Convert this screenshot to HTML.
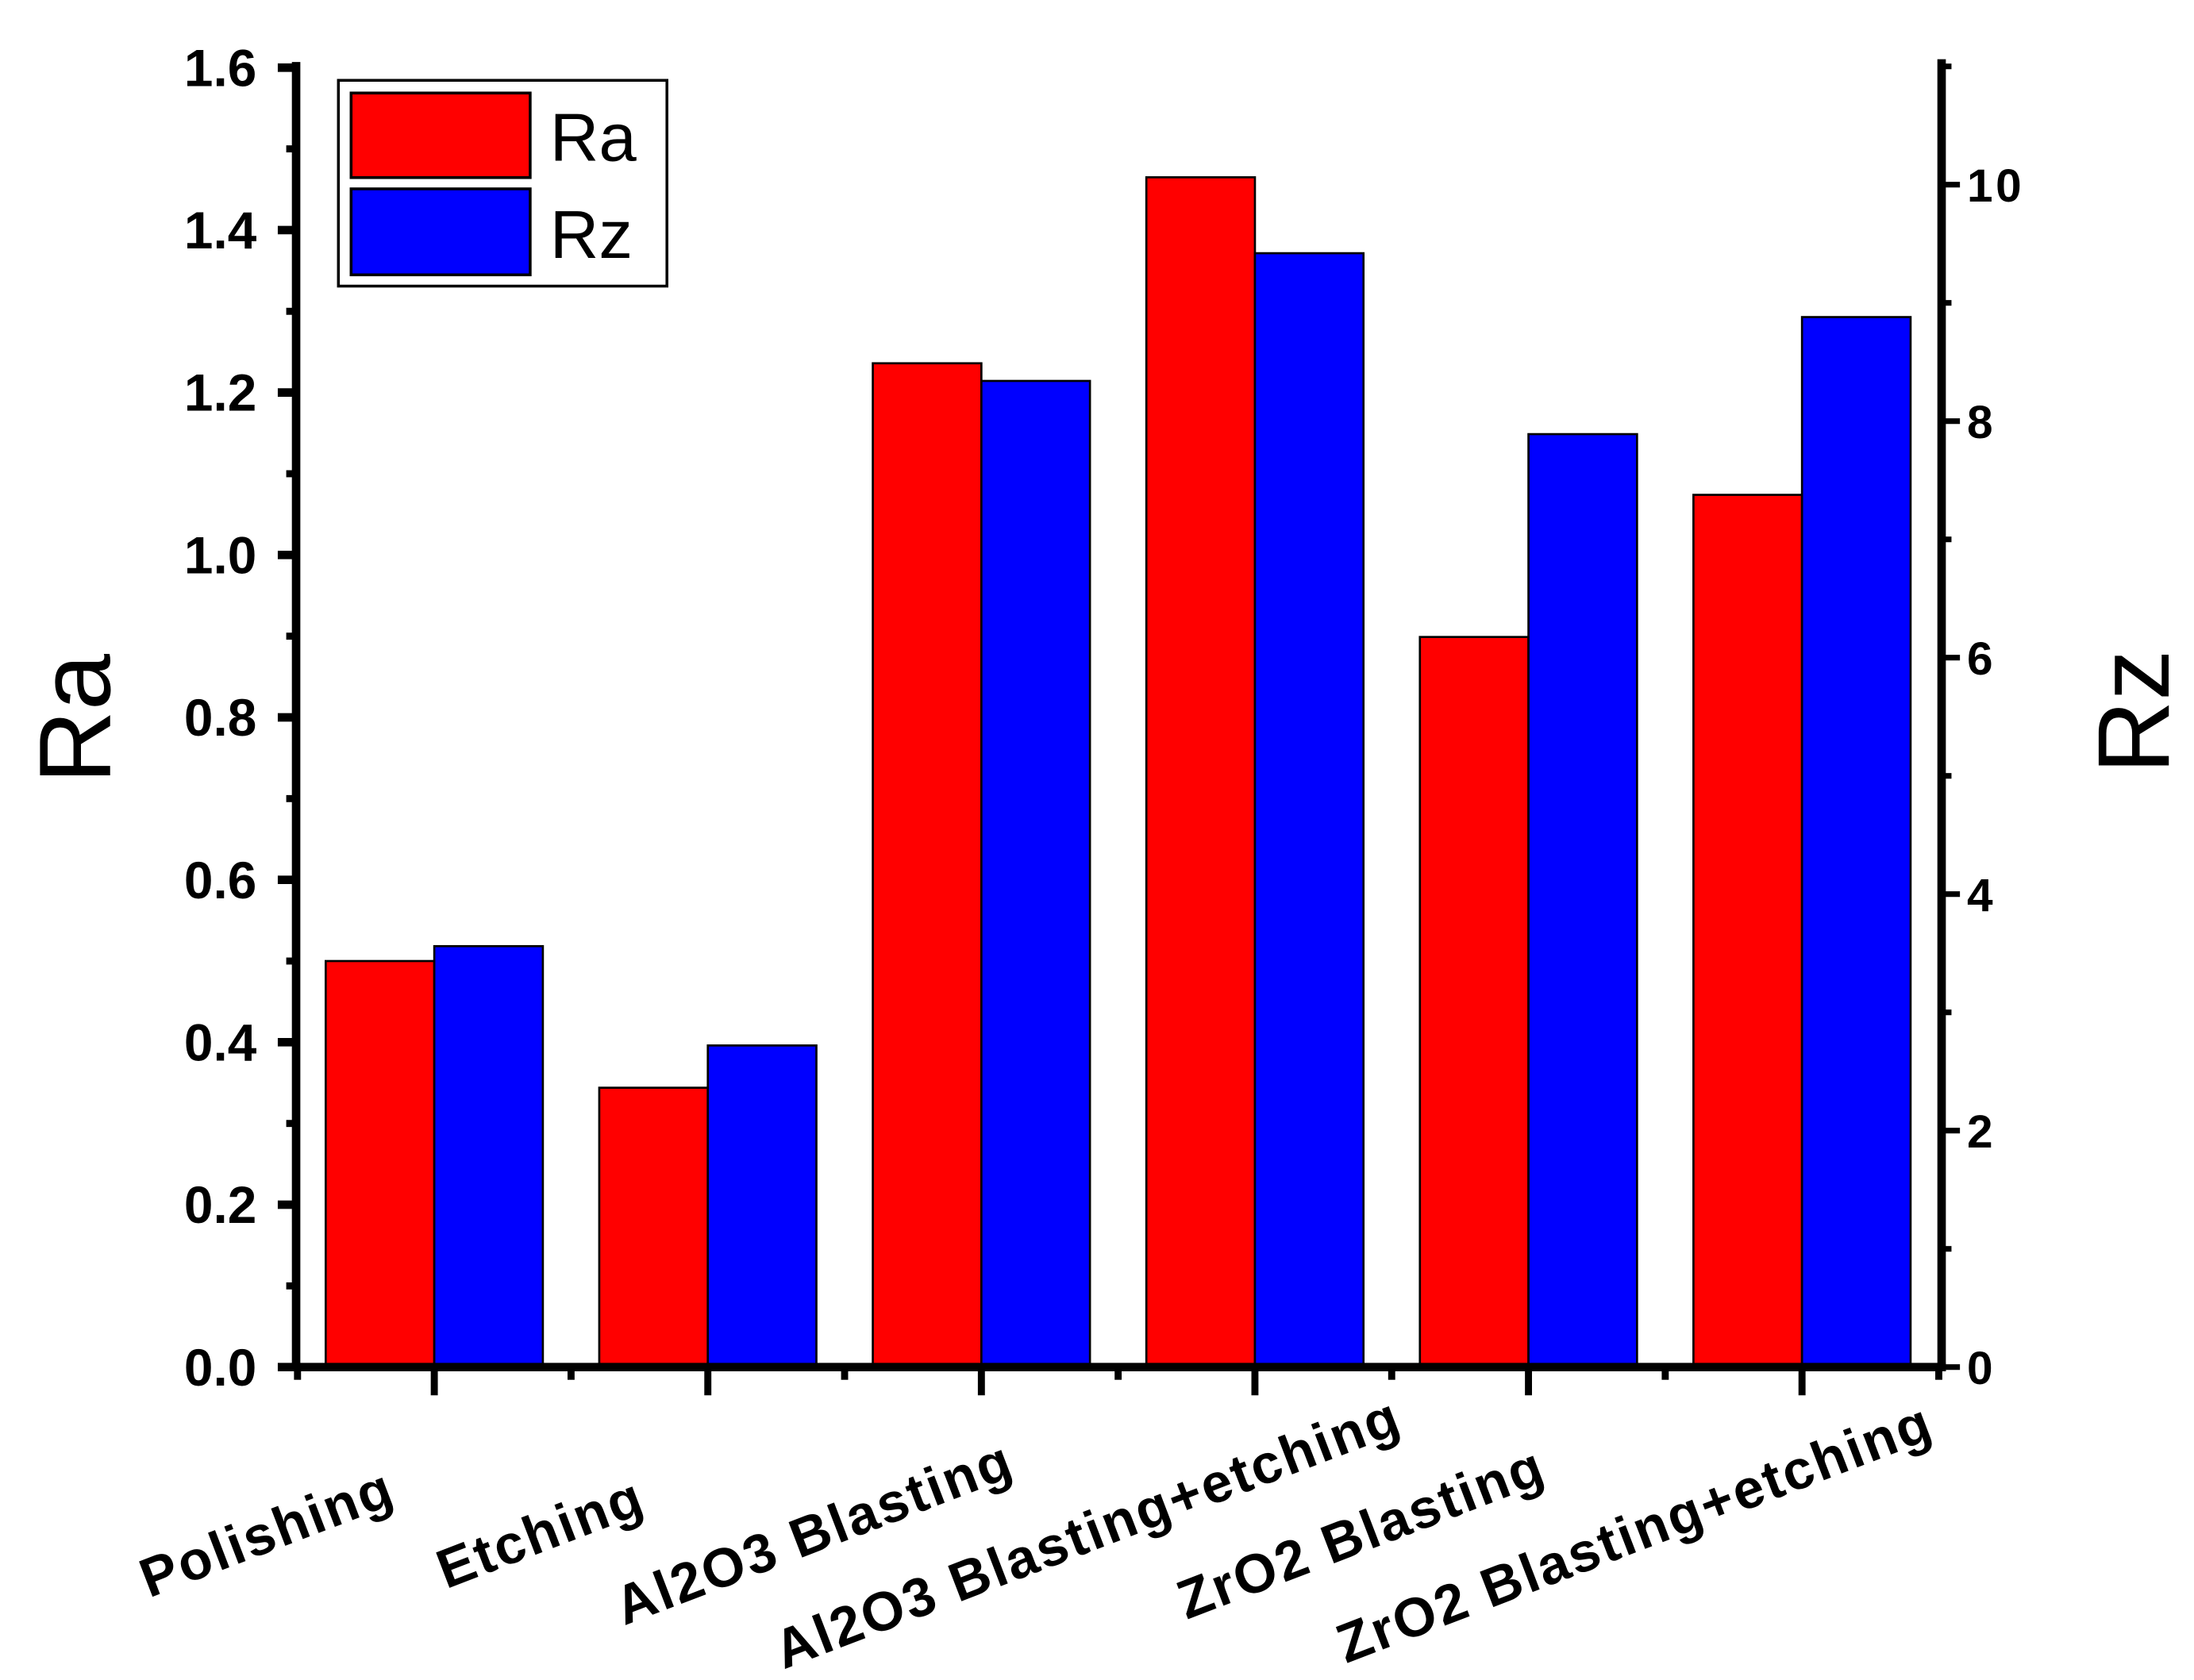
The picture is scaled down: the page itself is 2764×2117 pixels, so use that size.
<!DOCTYPE html>
<html><head><meta charset="utf-8"><style>
html,body{margin:0;padding:0;background:#fff;}
svg{display:block;}
text{font-family:"Liberation Sans",Arial,sans-serif;font-weight:bold;fill:#000;}
</style></head><body>
<svg id="chart" width="2764" height="2117" viewBox="0 0 1556 1192" preserveAspectRatio="none" xmlns="http://www.w3.org/2000/svg">
<g id="bars"></g>
<g id="axes"></g>
<g id="legend">
  <rect x="240" y="57" width="233" height="146" fill="#fff" stroke="#000" stroke-width="2"/>
  <rect x="249" y="66" width="127" height="60" fill="#ff0000" stroke="#000" stroke-width="2"/>
  <text x="390" y="114" font-size="48" style="font-weight:normal">Ra</text>
  <rect x="249" y="134" width="127" height="61" fill="#0000ff" stroke="#000" stroke-width="2"/>
  <text x="390" y="183" font-size="48" style="font-weight:normal">Rz</text>
</g>
<text transform="translate(78,510) rotate(-90)" text-anchor="middle" font-size="72" style="font-weight:normal">Ra</text>
<text transform="translate(1538,505) rotate(-90)" text-anchor="middle" font-size="72" style="font-weight:normal">Rz</text>
</svg>
<script>
const categories = ["Polishing","Etching","Al2O3 Blasting","Al2O3 Blasting+etching","ZrO2 Blasting","ZrO2 Blasting+etching"];
const raValues = [0.50, 0.344, 1.236, 1.465, 0.899, 1.074];
const rzValues = [3.56, 2.72, 8.34, 9.42, 7.89, 8.88];
const raTicks = ["0.0","0.2","0.4","0.6","0.8","1.0","1.2","1.4","1.6"];
const rzTicks = ["0","2","4","6","8","10"];

const NS = "http://www.w3.org/2000/svg";
const X0 = 210, X1 = 1377, Y0 = 970;
const yRa = v => Y0 - v * (922 / 1.6);
const yRz = v => Y0 - v * 83.9;
const xc = i => 308 + i * 194;
const barW = 77;

function mk(tag, attrs, parent) {
  const e = document.createElementNS(NS, tag);
  for (const k in attrs) e.setAttribute(k, attrs[k]);
  parent.appendChild(e);
  return e;
}
const bars = document.getElementById('bars');
const axes = document.getElementById('axes');
const svg = document.getElementById('chart');

categories.forEach((c, i) => {
  const r = mk('rect', {x: xc(i) - barW, y: yRa(raValues[i]), width: barW, height: Y0 - yRa(raValues[i]), fill: '#ff0000', stroke: '#000', 'stroke-width': 1.5}, bars);
  
  
  const b = mk('rect', {x: xc(i), y: yRz(rzValues[i]), width: barW, height: Y0 - yRz(rzValues[i]), fill: '#0000ff', stroke: '#000', 'stroke-width': 1.5}, bars);
  
  
});

let l = mk('line', {x1: X0, y1: 44, x2: X0, y2: Y0 + 3, stroke: '#000', 'stroke-width': 6}, axes);


l = mk('line', {x1: X1, y1: 42, x2: X1, y2: Y0 + 3, stroke: '#000', 'stroke-width': 6}, axes);


l = mk('line', {x1: X0 - 3, y1: Y0, x2: X1 + 3, y2: Y0, stroke: '#000', 'stroke-width': 6}, axes);



raTicks.forEach((t, i) => {
  const v = parseFloat(t);
  const y = yRa(v);
  const tk = mk('line', {x1: X0 - 13, y1: y, x2: X0, y2: y, stroke: '#000', 'stroke-width': 6}, axes);
  
  
  const tx = mk('text', {x: 182, y: y + 13, 'text-anchor': 'end', 'font-size': 37}, axes);
  tx.textContent = t;
  
  
  if (i < raTicks.length - 1) {
    const ym = yRa(v + 0.1);
    const mt = mk('line', {x1: X0 - 7, y1: ym, x2: X0, y2: ym, stroke: '#000', 'stroke-width': 5}, axes);
    
    
  }
});
rzTicks.forEach((t, i) => {
  const v = parseFloat(t);
  const y = yRz(v);
  const tk = mk('line', {x1: X1, y1: y, x2: X1 + 13, y2: y, stroke: '#000', 'stroke-width': 4}, axes);
  
  
  const tx = mk('text', {x: 1395, y: y + 12, 'text-anchor': 'start', 'font-size': 33, 'letter-spacing': 2}, axes);
  tx.textContent = t;
  
  
  const ym = yRz(v + 1);
  const mt = mk('line', {x1: X1, y1: ym, x2: X1 + 7, y2: ym, stroke: '#000', 'stroke-width': 4}, axes);
  
  
});
categories.forEach((c, i) => {
  const x = xc(i);
  const tk = mk('line', {x1: x, y1: Y0, x2: x, y2: Y0 + 20, stroke: '#000', 'stroke-width': 5}, axes);
  
  
  const mt = mk('line', {x1: x - 97, y1: Y0, x2: x - 97, y2: Y0 + 9, stroke: '#000', 'stroke-width': 5}, axes);
  
  
  const tx = mk('text', {transform: 'translate(' + (x - 114) + ',1100) rotate(-21)', 'text-anchor': 'middle', 'font-size': 39, 'letter-spacing': 1.5}, svg);
  tx.textContent = c;
  
  
});
const lastMinor = mk('line', {x1: X1 - 2, y1: Y0, x2: X1 - 2, y2: Y0 + 9, stroke: '#000', 'stroke-width': 5}, axes);


</script>
</body></html>
